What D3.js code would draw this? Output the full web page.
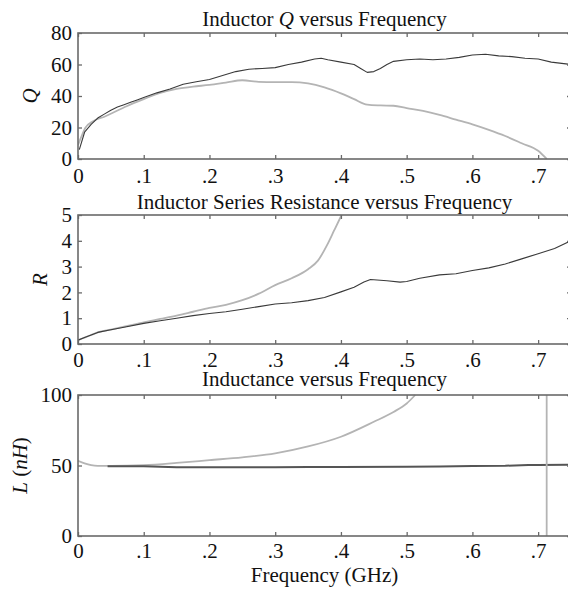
<!DOCTYPE html>
<html><head><meta charset="utf-8">
<script src="https://cdn.jsdelivr.net/npm/d3@7"></script>
<style>
html,body{margin:0;padding:0;background:#fff;overflow:hidden;}
text{font-family:"Liberation Serif","Times New Roman",serif;fill:#111;}
</style></head>
<body><svg id="c" width="568" height="593"></svg>
<script>
// ---------- data ----------
const xTicks = [0, .1, .2, .3, .4, .5, .6, .7];

// Panel 1: Q
const qTicks = [0, 20, 40, 60, 80];
const qMeasFreq = [0.002, .01, .02, .03, .04, .05, .06, .07, .08, .09, .10, .12, .14, .16, .18, .20, .22, .24, .26, .28, .30, .32, .34, .36, .37, .38, .40, .42, .43, .44, .45, .46, .47, .48, .50, .52, .54, .56, .58, .60, .62, .64, .66, .68, .70, .72, .75];
const qMeasVal  = [6, 17, 22, 26, 28.5, 31, 33, 34.5, 36, 37.5, 39, 42, 44.5, 47.5, 49, 50.5, 53, 55.5, 57, 57.5, 58, 60, 61.5, 63.5, 64, 63, 61.5, 60, 57.5, 55, 55.5, 57.5, 60, 62, 63, 63.5, 63, 63.5, 64.5, 66, 66.5, 65.5, 65, 64, 63.5, 61.5, 60];
const qModelFreq = [0, .005, .011, .023, .041, .074, .1, .125, .15, .175, .2, .225, .25, .275, .3, .325, .35, .375, .4, .42, .44, .46, .48, .5, .525, .55, .575, .6, .625, .65, .675, .7, .713];
const qModelVal  = [8.9, 14, 19.7, 24, 27, 33.5, 38, 42, 44.5, 46, 47, 48.5, 50, 49, 48.8, 48.8, 48, 45.5, 41.7, 38, 34.5, 34, 33.8, 32.3, 30.5, 28, 25, 22, 18.5, 14.6, 10, 5.2, 0];

// Panel 2: R
const rTicks = [0, 1, 2, 3, 4, 5];
const rMeasFreq = [0, .01, .02, .03, .05, .07, .1, .125, .15, .175, .2, .225, .25, .275, .3, .325, .35, .375, .4, .42, .435, .445, .455, .47, .49, .5, .52, .55, .575, .6, .625, .65, .675, .7, .725, .75];
const rMeasVal  = [0.15, 0.25, 0.35, 0.45, 0.55, 0.65, 0.8, 0.9, 1.0, 1.1, 1.18, 1.25, 1.35, 1.45, 1.55, 1.6, 1.68, 1.8, 2.02, 2.2, 2.4, 2.5, 2.48, 2.45, 2.4, 2.42, 2.55, 2.68, 2.72, 2.85, 2.95, 3.1, 3.3, 3.5, 3.7, 4.0];
const rModelFreq = [0, .01, .02, .03, .05, .07, .1, .125, .15, .175, .2, .225, .25, .275, .3, .325, .35, .365, .379, .39, .401];
const rModelVal  = [0.15, 0.25, 0.35, 0.45, 0.56, 0.67, 0.84, 0.97, 1.1, 1.25, 1.4, 1.52, 1.7, 1.95, 2.28, 2.55, 2.9, 3.23, 3.84, 4.42, 5.0];

// Panel 3: L
const lTicks = [0, 50, 100];
const lMeasFreq = [.045, .1, .15, .2, .3, .35, .4, .5, .55, .6, .65, .685, .7, .75];
const lMeasVal  = [49.5, 49.5, 48.7, 48.7, 48.8, 49, 49, 49.2, 49.3, 49.6, 49.8, 50.4, 50.4, 50.6];
const lModelFreq = [0, .01, .02, .03, .05, .1, .15, .2, .25, .3, .35, .4, .45, .48, .5, .513];
const lModelVal  = [53.4, 51.5, 50.2, 49.7, 49.7, 50.2, 51.8, 53.8, 55.8, 58.6, 63.5, 70.4, 81, 88, 94, 100];
const resonanceFreq = 0.713;

// ---------- drawing ----------
const svg = d3.select("#c");
const X0 = 78, X1 = 571, FS = 21;
const x = d3.scaleLinear().domain([0, 0.75]).range([X0, X1]);
const fmtX = d => d === 0 ? "0" : d3.format(".1f")(d).replace(/^0\./, ".");
const DARK = "#3a3a3a", LIGHT = "#b4b4b4", FRAME = "#6a6a6a";

function panel(cfg) {
  const y = d3.scaleLinear().domain(cfg.yDomain).range([cfg.bottom, cfg.top]);
  const g = svg.append("g");
  const clipId = "clip" + cfg.id;
  svg.append("clipPath").attr("id", clipId).append("rect")
    .attr("x", X0).attr("y", cfg.top - 1).attr("width", X1 - X0).attr("height", cfg.bottom - cfg.top + 2);
  const lg = g.append("g").attr("clip-path", `url(#${clipId})`);
  cfg.series.forEach(s => {
    const pts = s.f.map((f, i) => [f, s.v[i]]);
    lg.append("path").datum(pts)
      .attr("fill", "none").attr("stroke", s.color).attr("stroke-width", s.w)
      .attr("stroke-linejoin", "round")
      .attr("d", d3.line().curve(s.smooth ? d3.curveMonotoneX : d3.curveLinear).x(d => x(d[0])).y(d => y(d[1])));
  });
  if (cfg.extra) cfg.extra(lg, y);
  const tl = 4;
  g.append("g").attr("transform", `translate(0,${cfg.bottom})`)
    .call(d3.axisBottom(x).tickValues(xTicks).tickSize(-tl).tickPadding(cfg.xlabOff).tickFormat(fmtX))
    .call(a => { a.select(".domain").remove(); a.selectAll("text").attr("font-size", FS).attr("dy", "0").attr("fill", "#111"); a.selectAll("line").attr("stroke", FRAME).attr("stroke-width", 1.3); });
  g.append("g").attr("transform", `translate(0,${cfg.top})`)
    .call(d3.axisTop(x).tickValues(xTicks).tickSize(-tl).tickFormat(""))
    .call(a => { a.select(".domain").remove(); a.selectAll("line").attr("stroke", FRAME).attr("stroke-width", 1.3); });
  g.append("g").attr("transform", `translate(${X0},0)`)
    .call(d3.axisLeft(y).tickValues(cfg.yTicks).tickSize(-tl).tickPadding(6).tickFormat(d3.format("d")))
    .call(a => { a.select(".domain").remove(); a.selectAll("text").attr("font-size", FS).attr("fill", "#111").attr("x", -6); a.selectAll("line").attr("stroke", FRAME).attr("stroke-width", 1.3); });
  g.append("g").attr("transform", `translate(${X1},0)`)
    .call(d3.axisRight(y).tickValues(cfg.yTicks).tickSize(-tl).tickFormat(""))
    .call(a => { a.select(".domain").remove(); a.selectAll("line").attr("stroke", FRAME).attr("stroke-width", 1.3); });
  g.append("rect").attr("x", X0).attr("y", cfg.top).attr("width", X1 - X0).attr("height", cfg.bottom - cfg.top)
    .attr("fill", "none").attr("stroke", FRAME).attr("stroke-width", 1.6);
  const t = g.append("text").attr("x", (X0 + X1) / 2).attr("y", cfg.titleY).attr("text-anchor", "middle").attr("font-size", FS);
  cfg.title.forEach(p => t.append("tspan").text(p[0]).attr("font-style", p[1] ? "italic" : "normal"));
  const yl = g.append("text").attr("transform", `translate(${cfg.ylX},${(cfg.top + cfg.bottom) / 2}) rotate(-90)`)
    .attr("text-anchor", "middle").attr("dy", "0.35em").attr("font-size", FS);
  cfg.ylabel.forEach(p => yl.append("tspan").text(p[0]).attr("font-style", p[1] ? "italic" : "normal"));
}

panel({ id: 1, top: 33, bottom: 159, yDomain: [0, 80], yTicks: qTicks, titleY: 26, ylX: 30, xlabOff: 24,
  title: [["Inductor ", 0], ["Q", 1], [" versus Frequency", 0]], ylabel: [["Q", 1]],
  series: [{ f: qModelFreq, v: qModelVal, color: LIGHT, w: 1.8, smooth: true }, { f: qMeasFreq, v: qMeasVal, color: DARK, w: 1.1 }] });

panel({ id: 2, top: 215, bottom: 344, yDomain: [0, 5], yTicks: rTicks, titleY: 209, ylX: 40, xlabOff: 23,
  title: [["Inductor Series Resistance versus Frequency", 0]], ylabel: [["R", 1]],
  series: [{ f: rModelFreq, v: rModelVal, color: LIGHT, w: 1.8, smooth: true }, { f: rMeasFreq, v: rMeasVal, color: DARK, w: 1.1 }] });

panel({ id: 3, top: 395, bottom: 536, yDomain: [0, 100], yTicks: lTicks, titleY: 386, ylX: 20, xlabOff: 22,
  title: [["Inductance versus Frequency", 0]], ylabel: [["L", 1], [" (", 0], ["nH", 1], [")", 0]],
  series: [{ f: lModelFreq, v: lModelVal, color: LIGHT, w: 1.8, smooth: true }, { f: lMeasFreq, v: lMeasVal, color: "#555", w: 2 }],
  extra: (lg, y) => lg.append("line").attr("x1", x(resonanceFreq)).attr("x2", x(resonanceFreq))
      .attr("y1", y(0)).attr("y2", y(100)).attr("stroke", LIGHT).attr("stroke-width", 1.8) });

svg.append("text").attr("x", (X0 + X1) / 2).attr("y", 582).attr("text-anchor", "middle").attr("font-size", FS)
  .text("Frequency (GHz)");
</script></body></html>
